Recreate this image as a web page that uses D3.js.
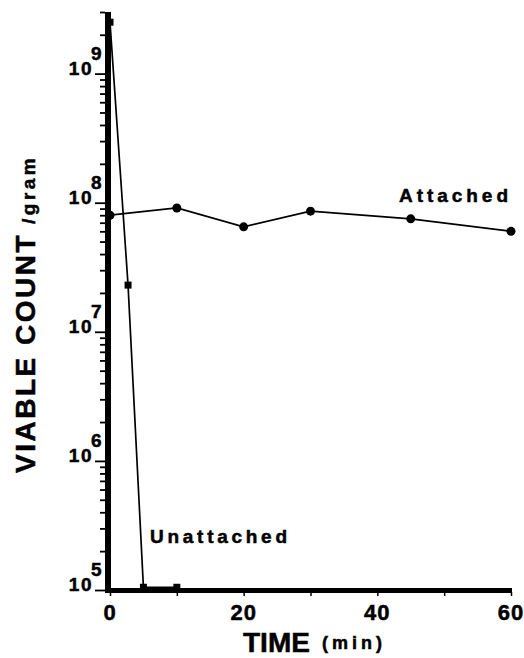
<!DOCTYPE html>
<html>
  <head>
    <meta charset="utf-8">
    <title>Viable count vs time</title>
    <script type="text/javascript" src="https://d3js.org/d3.v7.min.js"></script>
    <style type="text/css">
      body { margin: 0; background: #fff; }
      text { font-family: "Liberation Sans", Arial, sans-serif; font-weight: bold; fill: #000; stroke: #000; stroke-width: 0.5px; }
    </style>
  </head>
  <body>
    <script type="text/javascript">
    // data
    var attachedTimes = [0, 10, 20, 30, 45, 60];
    var attachedCounts = [8.0e7, 9.1e7, 6.5e7, 8.6e7, 7.5e7, 6.0e7];
    var unattachedTimes = [0, 2.7, 5, 10];
    var unattachedCounts = [2.5e9, 2.3e7, 1.05e5, 1.05e5];
    var xTicks = [0, 10, 20, 30, 40, 50, 60];
    var xLabels = [0, 20, 40, 60];
    var exponents = [5, 6, 7, 8, 9];

    var width = 524, height = 658;

    var svg = d3.select("body")
                .append("svg")
                .attr("width", width)
                .attr("height", height);

    var xScale = d3.scaleLinear().domain([0, 60]).range([110, 511]);
    var yScale = d3.scaleLog().domain([1e5, 3e9]).range([590, 12]);

    // minor + major ticks on the y axis
    var minor = [];
    for (var e = 5; e <= 9; e++) {
      for (var m = 2; m <= 9; m++) {
        if (m * Math.pow(10, e) <= 3e9) minor.push(m * Math.pow(10, e));
      }
    }
    var majors = exponents.map(function(p) { return Math.pow(10, p); });

    svg.append("g")
       .attr("transform", "translate(105,0)")
       .call(d3.axisLeft(yScale).tickValues(minor).tickSize(5).tickFormat(""))
       .call(function(g) { g.select(".domain").remove(); })
       .selectAll("line").attr("stroke-width", 1.8);

    svg.append("g")
       .attr("transform", "translate(105,0)")
       .call(d3.axisLeft(yScale).tickValues(majors).tickSize(10).tickFormat(""))
       .call(function(g) { g.select(".domain").remove(); })
       .selectAll("line").attr("stroke-width", 1.8);

    // x ticks
    svg.append("g")
       .attr("transform", "translate(0,592)")
       .call(d3.axisBottom(xScale).tickValues(xTicks).tickSize(4).tickFormat(""))
       .call(function(g) { g.select(".domain").remove(); })
       .selectAll("line").attr("stroke-width", 1.5);

    // thick axis lines
    svg.append("line")
       .attr("x1", 108).attr("x2", 108)
       .attr("y1", yScale(3e9)).attr("y2", 593)
       .attr("stroke", "#000").attr("stroke-width", 6);
    svg.append("line")
       .attr("x1", 105).attr("x2", 512)
       .attr("y1", 590.5).attr("y2", 590.5)
       .attr("stroke", "#000").attr("stroke-width", 5);

    // y labels 10^n
    var ylab = svg.append("g").selectAll("g")
       .data(exponents)
       .enter()
       .append("g");
    ylab.append("text")
        .attr("x", 93)
        .attr("y", function(d) { return yScale(Math.pow(10, d)) + 1; })
        .attr("text-anchor", "end")
        .style("font-size", "19px")
        .style("letter-spacing", "1.5px")
        .text("10");
    ylab.append("text")
        .attr("x", 91)
        .attr("y", function(d) { return yScale(Math.pow(10, d)) - 14; })
        .style("font-size", "19px")
        .text(function(d) { return d; });

    // x labels
    svg.append("g").selectAll("text")
       .data(xLabels)
       .enter()
       .append("text")
       .attr("x", function(d) { return xScale(d); })
       .attr("y", 620)
       .attr("text-anchor", "middle")
       .style("font-size", "22px")
       .style("letter-spacing", "1px")
       .text(function(d) { return d; });

    // lines
    var line = d3.line()
                 .x(function(d) { return xScale(d[0]); })
                 .y(function(d) { return yScale(d[1]); });

    var attached = attachedTimes.map(function(t, i) { return [t, attachedCounts[i]]; });
    var unattached = unattachedTimes.map(function(t, i) { return [t, unattachedCounts[i]]; });

    svg.append("path")
       .datum(attached)
       .attr("d", line)
       .attr("fill", "none")
       .attr("stroke", "#000")
       .attr("stroke-width", 1.7);

    svg.append("path")
       .datum(unattached)
       .attr("d", line)
       .attr("fill", "none")
       .attr("stroke", "#000")
       .attr("stroke-width", 1.7);

    svg.selectAll("circle")
       .data(attached)
       .enter()
       .append("circle")
       .attr("cx", function(d) { return xScale(d[0]); })
       .attr("cy", function(d) { return yScale(d[1]); })
       .attr("r", 4.5)
       .attr("fill", "#000");

    svg.selectAll("rect.sq")
       .data(unattached)
       .enter()
       .append("rect")
       .attr("class", "sq")
       .attr("x", function(d) { return xScale(d[0]) - 3.5; })
       .attr("y", function(d) { return yScale(d[1]) - 3.5; })
       .attr("width", 7)
       .attr("height", 7)
       .attr("fill", "#000");

    // series labels
    svg.append("text")
       .attr("x", 399).attr("y", 202)
       .style("font-size", "19px")
       .attr("textLength", 109).attr("lengthAdjust", "spacing")
       .text("Attached");
    svg.append("text")
       .attr("x", 150).attr("y", 543)
       .style("font-size", "19px")
       .attr("textLength", 137).attr("lengthAdjust", "spacing")
       .text("Unattached");

    // axis titles
    var xt = svg.append("text")
       .attr("x", 243).attr("y", 652);
    xt.append("tspan").style("font-size", "28px").text("TIME");
    xt.append("tspan").attr("dx", 12).attr("dy", -3).style("font-size", "18px").style("letter-spacing", "4px").text("(min)");

    var yt = svg.append("text")
       .attr("transform", "translate(35,473) rotate(-90)");
    yt.append("tspan").style("font-size", "28px").style("letter-spacing", "2.5px").text("VIABLE COUNT");
    yt.append("tspan").attr("dx", 9).style("font-size", "19px").style("letter-spacing", "3.5px").text("/gram");
    </script>
  </body>
</html>
